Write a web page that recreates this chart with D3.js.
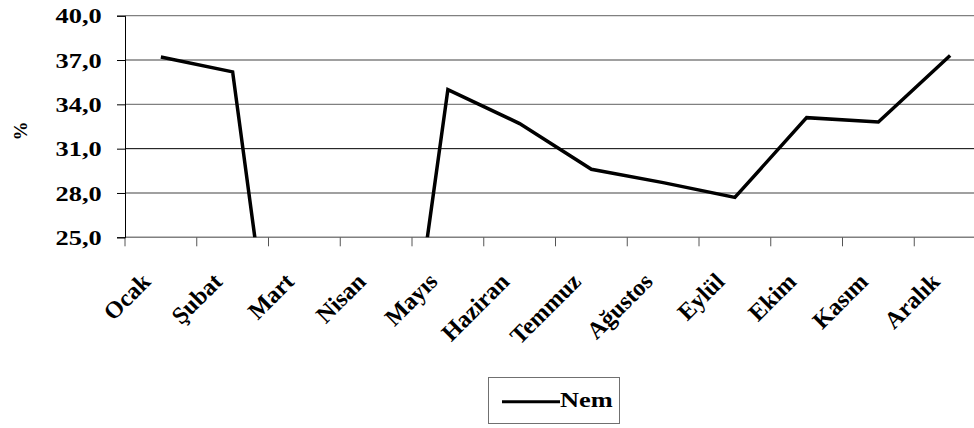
<!DOCTYPE html>
<html>
<head>
<meta charset="utf-8">
<script src="https://cdn.jsdelivr.net/npm/d3@7/dist/d3.min.js"></script>
<style>
  html, body { margin: 0; padding: 0; background: #fff; }
  svg { display: block; }
  text { font-family: "Liberation Serif", "Times New Roman", serif; font-weight: bold; fill: #000; }
</style>
</head>
<body>
<svg id="chart" width="974" height="428"></svg>
<script>
// Monthly humidity (%)
const months = ["Ocak", "Şubat", "Mart", "Nisan", "Mayıs", "Haziran", "Temmuz", "Ağustos", "Eylül", "Ekim", "Kasım", "Aralık"];
const nem = [37.2, 36.2, 0, 0, 35.0, 32.7, 29.6, 28.7, 27.7, 33.1, 32.8, 37.3];
const yTicks = [25, 28, 31, 34, 37, 40];
const seriesName = "Nem";
const yTitle = "%";

const svg = d3.select("#chart");
const stretch = 1.32; // wide text rendering

const plot = { left: 125, right: 986, top: 15.7, bottom: 237.3 };

const x = d3.scaleBand().domain(months).range([plot.left, plot.right]).padding(0);
const y = d3.scaleLinear().domain([25, 40]).range([plot.bottom, plot.top]);
const fmt = d => d.toFixed(1).replace(".", ",");

// horizontal gridlines
svg.append("g").selectAll("line").data(yTicks.filter(d => d > 25)).join("line")
  .attr("x1", plot.left).attr("x2", plot.right)
  .attr("y1", d => y(d)).attr("y2", d => y(d))
  .attr("stroke", d => d === 31 ? "#000" : "#808080")
  .attr("stroke-width", d => d === 31 ? 1 : 1.3);

// category axis: baseline and boundary ticks
const xAxisG = svg.append("g");
xAxisG.append("line")
  .attr("x1", plot.left).attr("x2", plot.right)
  .attr("y1", y(25)).attr("y2", y(25))
  .attr("stroke", "#808080").attr("stroke-width", 1.5);
const bounds = months.map(m => x(m)).concat([x(months[months.length - 1]) + x.step()]);
xAxisG.selectAll("line.tk").data(bounds).join("line").attr("class", "tk")
  .attr("x1", d => d).attr("x2", d => d)
  .attr("y1", y(25)).attr("y2", y(25) + 9)
  .attr("stroke", "#555").attr("stroke-width", 1);

// value axis
const yAxis = d3.axisLeft(y).tickValues(yTicks).tickSize(8).tickFormat("");
const yAxisG = svg.append("g").attr("transform", `translate(${plot.left},0)`).call(yAxis);
yAxisG.select(".domain").attr("stroke", "#000");
yAxisG.selectAll(".tick line").attr("stroke", "#000");

// value labels
svg.append("g").selectAll("text").data(yTicks).join("text")
  .attr("transform", d => `translate(101.7,${y(d) + 7.6}) scale(${stretch},1)`)
  .attr("text-anchor", "end")
  .attr("font-size", 20)
  .text(fmt);

// category labels
svg.append("g").selectAll("text").data(months).join("text")
  .attr("transform", d => `translate(${x(d) + x.bandwidth() / 2 - 9},283) rotate(-45)`)
  .attr("text-anchor", "end")
  .attr("font-size", 24)
  .text(d => d);

// axis title
svg.append("text")
  .attr("transform", `translate(26.5,131) rotate(-90)`)
  .attr("text-anchor", "middle")
  .attr("font-size", 19)
  .text(yTitle);

// series line, clipped to the plot area
svg.append("clipPath").attr("id", "plotClip").append("rect")
  .attr("x", plot.left).attr("y", plot.top - 5)
  .attr("width", plot.right - plot.left).attr("height", plot.bottom - plot.top + 5);

const line = d3.line()
  .x((d, i) => x(months[i]) + x.bandwidth() / 2)
  .y(d => y(d));

svg.append("path")
  .datum(nem)
  .attr("clip-path", "url(#plotClip)")
  .attr("fill", "none")
  .attr("stroke", "#000")
  .attr("stroke-width", 3.5)
  .attr("stroke-linejoin", "miter")
  .attr("d", line);

// legend
const lg = svg.append("g");
lg.append("rect")
  .attr("x", 488.5).attr("y", 377.5).attr("width", 131).attr("height", 46)
  .attr("fill", "#fff").attr("stroke", "#707070").attr("stroke-width", 1);
lg.append("line")
  .attr("x1", 502).attr("x2", 560).attr("y1", 401.7).attr("y2", 401.7)
  .attr("stroke", "#000").attr("stroke-width", 3);
lg.append("text")
  .attr("transform", `translate(560,406.7) scale(${stretch},1)`)
  .attr("font-size", 20)
  .text(seriesName);
</script>
</body>
</html>
